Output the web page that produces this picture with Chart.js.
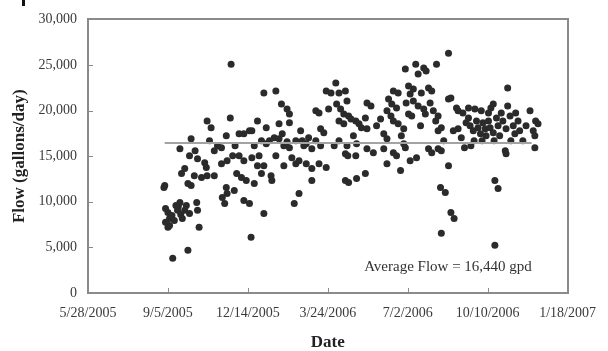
<!DOCTYPE html>
<html>
<head>
<meta charset="utf-8">
<script src="https://cdn.jsdelivr.net/npm/chart.js@4"></script>
<style>
  html, body { margin: 0; padding: 0; background: #fff; }
  #wrap { position: relative; width: 608px; height: 351px; }
  #mark { position: absolute; left: 22px; top: 0; width: 3px; height: 6px; background: #111; }
</style>
</head>
<body>
<div id="wrap">
  <canvas id="flowChart" width="608" height="351"></canvas>
  <div id="mark"></div>
</div>
<script>
// Dates are Excel serial day numbers (38500 = 5/28/2005)
const dates = [
  38595, 38596, 38597, 38600, 38602, 38597, 38600, 38602, 38605, 38606,
  38608, 38610, 38612, 38613, 38615, 38616, 38618, 38621, 38623, 38625,
  38627, 38629, 38625, 38636, 38637, 38639, 38615, 38617, 38621, 38629,
  38633, 38637, 38642, 38646, 38648, 38649, 38649, 38654, 38658, 38662,
  38667, 38667, 38668, 38671, 38673, 38673, 38674, 38678, 38679, 38681,
  38683, 38686, 38689, 38689, 38692, 38695, 38695, 38698, 38702, 38702,
  38704, 38705, 38705, 38708, 38712, 38714, 38717, 38720, 38720, 38723,
  38717, 38723, 38727, 38729, 38730, 38733, 38735, 38735, 38739, 38739,
  38742, 38743, 38745, 38749, 38749, 38752, 38752, 38752, 38755, 38758,
  38760, 38760, 38764, 38766, 38768, 38770, 38773, 38773, 38776, 38780,
  38780, 38780, 38785, 38785, 38789, 38789, 38791, 38791, 38795, 38798,
  38798, 38801, 38804, 38810, 38811, 38814, 38814, 38816, 38820, 38820,
  38822, 38822, 38822, 38824, 38826, 38824, 38825, 38826, 38829, 38835,
  38835, 38836, 38836, 38839, 38842, 38847, 38847, 38849, 38849, 38849,
  38854, 38857, 38870, 38870, 38874, 38874, 38874, 38876, 38879, 38880,
  38882, 38882, 38882, 38886, 38886, 38888, 38888, 38891, 38895, 38895,
  38897, 38897, 38898, 38901, 38901, 38903, 38903, 38905, 38907, 38907,
  38910, 38911, 38913, 38913, 38917, 38920, 38920, 38922, 38923, 38926,
  38926, 38928, 38930, 38930, 38932, 38935, 38936, 38938, 38938, 38938,
  38941, 38942, 38942, 38942, 38947, 38951, 38951, 38951, 38954, 38954,
  38958, 38961, 38963, 38969, 38976, 38976, 38978, 38979, 38982, 38984,
  38986, 38988, 38991, 38992, 38994, 38997, 38998, 39001, 39001, 39003,
  39004, 39007, 39007, 39009, 39009, 39011, 39013, 39013, 39015, 39017,
  39019, 39022, 39023, 39023, 39025, 39025, 39028, 39032, 39034, 39038,
  39040, 39053, 39057, 39059, 39059, 39060, 39063, 38963, 38967, 38971,
  38973, 38983, 38993, 39008, 39029, 39035, 39044, 39048, 38627, 38634,
  38652, 38658, 38674, 38684, 38695, 38708, 38712, 38720, 38745, 38764,
  38808, 38814, 38832, 38861, 38866, 38892, 38916, 38945, 38957
];

const flows = [
  11560, 11780, 9270, 8840, 8180, 7750, 7200, 7400, 8510, 3820,
  7960, 9600, 9060, 9490, 9930, 8620, 8180, 9060, 9600, 4690,
  8730, 11780, 12000, 9930, 9060, 7200, 15820, 13090, 13640, 16910,
  12870, 14730, 12660, 14290, 13750, 12870, 18870, 18110, 12870, 16150,
  15930, 14180, 10470, 9820, 17240, 11560, 10910, 19200, 25090, 15060,
  11240, 13090, 17460, 15060, 12660, 17460, 10150, 12330, 17780, 9820,
  6110, 17780, 14840, 12000, 18870, 15060, 13090, 21930, 8730, 18110,
  16690, 16370, 16690, 12870, 12330, 17020, 22150, 15060, 18550, 16910,
  20730, 17460, 16150, 20180, 16580, 19640, 18660, 15930, 14840, 9820,
  14180, 16690, 10910, 17780, 16690, 16150, 14180, 16370, 17020, 13640,
  12330, 15820, 19970, 16690, 19750, 14180, 18000, 16150, 17570, 22150,
  13750, 20180, 21930, 23020, 20730, 21930, 18870, 20180, 19640, 18550,
  22150, 15270, 12330, 21060, 19420, 16150, 15060, 12110, 19090, 18870,
  15060, 16370, 12550, 18550, 18110, 19200, 13090, 20840, 18000, 15820,
  20510, 15380, 17460, 15820, 19970, 16910, 14180, 21270, 19420, 20730,
  22150, 18870, 15380, 20290, 15060, 21930, 18550, 13420, 18000, 16370,
  24550, 15930, 20840, 22690, 19640, 21820, 14510, 19420, 22370, 21060,
  25090, 14840, 24000, 20510, 21930, 24660, 20180, 19640, 24330, 22470,
  15820, 20840, 22150, 15380, 19970, 18870, 25090, 19420, 17780, 15820,
  11560, 15600, 18110, 6550, 11020, 26290, 21270, 13960, 21380, 8840,
  8180, 20290, 19970, 19750, 20290, 19200, 18330, 16150, 17780, 20180,
  18870, 18110, 17460, 19970, 18660, 18000, 17240, 19750, 18870, 18110,
  20290, 20730, 17570, 12330, 5240, 19200, 18330, 11460, 17240, 19750,
  18870, 15600, 18000, 15270, 22470, 20510, 19420, 18330, 17460, 18870,
  17780, 19970, 17780, 17240, 15930, 18870, 18550, 18000, 17020, 15930,
  18660, 16690, 16690, 16690, 16690, 19750, 16690, 18330, 15060, 15600,
  16690, 15600, 14510, 16150, 14510, 16150, 13960, 13960, 13960, 14510,
  16150, 16690, 17240, 18330, 19090, 17240, 18330, 16690, 17780
];

// Average flow line and axis ranges
const avgFlow = 16440;
const avgDates = [38596, 39055];
const xTicks = [38500, 38600, 38700, 38800, 38900, 39000, 39100];
const yTicks = [0, 5000, 10000, 15000, 20000, 25000, 30000];

function serialToDate(serial) {
  const d = new Date(Date.UTC(1899, 11, 30) + serial * 86400000);
  return (d.getUTCMonth() + 1) + '/' + d.getUTCDate() + '/' + d.getUTCFullYear();
}

const serif = 'Liberation Serif, Times New Roman, serif';

// Plot frame, small inside tick marks and the average label
const framePlugin = {
  id: 'frame',
  afterDraw(chart) {
    const c = chart.ctx;
    const area = chart.chartArea;
    const xs = chart.scales.x, ys = chart.scales.y;
    const l = Math.round(area.left), r = Math.round(area.right);
    const t = Math.round(area.top), b = Math.round(area.bottom);
    c.save();
    c.fillStyle = '#8a8a8a';
    yTicks.forEach(v => {
      const y = Math.round(ys.getPixelForValue(v));
      c.fillRect(l, y, 5, 1);
    });
    xTicks.forEach(v => {
      const x = Math.round(xs.getPixelForValue(v));
      c.fillRect(x, b - 5, 1, 5);
    });
    c.fillRect(l - 1, t - 1, r - l + 2, 2);
    c.fillRect(l - 1, b - 1, r - l + 2, 2);
    c.fillRect(l - 1, t - 1, 2, b - t + 2);
    c.fillRect(r - 1, t - 1, 2, b - t + 2);

    c.fillStyle = '#333';
    c.font = '15px ' + serif;
    c.textAlign = 'center';
    c.textBaseline = 'middle';
    c.fillText('Average Flow = 16,440 gpd', r - 120, b - 26);
    c.restore();
  }
};

const chartCtx = document.getElementById('flowChart').getContext('2d');
const flowChart = new Chart(chartCtx, {
  type: 'scatter',
  data: {
    datasets: [
      {
        type: 'line',
        data: avgDates.map(d => ({ x: d, y: avgFlow })),
        borderColor: '#a3a3a3',
        borderWidth: 2,
        pointRadius: 0,
        order: 0
      },
      {
        data: dates.map((d, i) => ({ x: d, y: flows[i] })),
        backgroundColor: '#2b2b2b',
        borderWidth: 0,
        pointRadius: 3.5,
        order: 1
      }
    ]
  },
  options: {
    responsive: false,
    animation: false,
    layout: { padding: { left: 9, right: 38, top: 18, bottom: 0 } },
    plugins: {
      legend: { display: false },
      tooltip: { enabled: false }
    },
    scales: {
      x: {
        type: 'linear',
        min: 38500,
        max: 39100,
        grid: { display: false, drawTicks: false },
        border: { display: false },
        afterBuildTicks: s => { s.ticks = xTicks.map(v => ({ value: v })); },
        afterFit: s => { s.height = 58; },
        ticks: {
          padding: 12,
          maxRotation: 0,
          autoSkip: false,
          color: '#3a3a3a',
          font: { family: serif, size: 14 },
          callback: v => serialToDate(v)
        },
        title: {
          display: true,
          text: 'Date',
          color: '#222',
          padding: { top: 0, bottom: -2 },
          font: { family: serif, size: 17, weight: 'bold' }
        }
      },
      y: {
        min: 0,
        max: 30000,
        grid: { display: false, drawTicks: false },
        border: { display: false },
        afterBuildTicks: s => { s.ticks = yTicks.map(v => ({ value: v })); },
        afterFit: s => { s.width = 79; },
        ticks: {
          padding: 11,
          color: '#3a3a3a',
          font: { family: serif, size: 14 },
          callback: v => v.toLocaleString('en-US')
        },
        title: {
          display: true,
          text: 'Flow (gallons/day)',
          color: '#222',
          padding: 0,
          font: { family: serif, size: 17, weight: 'bold' }
        }
      }
    }
  },
  plugins: [framePlugin]
});
</script>
</body>
</html>
